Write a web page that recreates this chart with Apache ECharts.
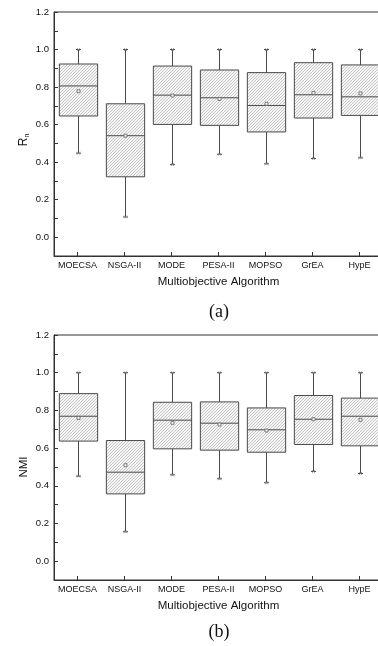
<!DOCTYPE html>
<html>
<head>
<meta charset="utf-8">
<script src="https://cdn.jsdelivr.net/npm/echarts@6/dist/echarts.min.js"></script>
<style>
html,body{margin:0;padding:0;background:#fff;}
#chart{width:378px;height:646px;}
</style>
</head>
<body>
<div id="chart"></div>
<script>
const categories = ['MOECSA','NSGA-II','MODE','PESA-II','MOPSO','GrEA','HypE'];
// Panel (a): R_n
const rnMin    = [0.448, 0.108, 0.387, 0.442, 0.391, 0.419, 0.423];
const rnQ1     = [0.646, 0.322, 0.601, 0.596, 0.561, 0.635, 0.649];
const rnMedian = [0.806, 0.541, 0.757, 0.743, 0.702, 0.759, 0.748];
const rnQ3     = [0.923, 0.711, 0.912, 0.891, 0.877, 0.930, 0.918];
const rnMax    = [1.0, 1.0, 1.0, 1.0, 1.0, 1.0, 1.0];
const rnMean   = [0.778, 0.541, 0.755, 0.737, 0.711, 0.769, 0.766];
// Panel (b): NMI
const nmiMin    = [0.451, 0.156, 0.458, 0.437, 0.416, 0.476, 0.465];
const nmiQ1     = [0.637, 0.357, 0.596, 0.589, 0.578, 0.619, 0.612];
const nmiMedian = [0.769, 0.472, 0.748, 0.732, 0.697, 0.753, 0.769];
const nmiQ3     = [0.889, 0.640, 0.843, 0.845, 0.813, 0.879, 0.865];
const nmiMax    = [1.0, 1.0, 1.0, 1.0, 1.0, 1.0, 1.0];
const nmiMean   = [0.760, 0.509, 0.734, 0.725, 0.693, 0.753, 0.750];

const yLabelValues = [0.0, 0.2, 0.4, 0.6, 0.8, 1.0, 1.2];
const yTickValues  = [0.0, 0.1, 0.2, 0.3, 0.4, 0.5, 0.6, 0.7, 0.8, 0.9, 1.0, 1.1, 1.2];

// hatch pattern
const P = 3;
const pc = document.createElement('canvas');
pc.width = P; pc.height = P;
const ctx = pc.getContext('2d');
ctx.fillStyle = '#f5f5f5';
ctx.fillRect(0,0,P,P);
ctx.strokeStyle = '#bdbdbd';
ctx.lineWidth = 0.8;
ctx.beginPath();
ctx.moveTo(0,P); ctx.lineTo(P,0);
ctx.moveTo(-1,1); ctx.lineTo(1,-1);
ctx.moveTo(P-1,P+1); ctx.lineTo(P+1,P-1);
ctx.stroke();
const hatch = {image: pc, repeat: 'repeat'};

function build(mins,q1,med,q3,maxs,means){
  return categories.map((c,i)=>[i, mins[i], q1[i], med[i], q3[i], maxs[i], means[i]]);
}

const LC = '#4a4a4a';
function renderItem(params, api){
  const x = api.value(0);
  const pMin = api.coord([x, api.value(1)]);
  const pQ1 = api.coord([x, api.value(2)]);
  const pMed = api.coord([x, api.value(3)]);
  const pQ3 = api.coord([x, api.value(4)]);
  const pMax = api.coord([x, api.value(5)]);
  const pMean = api.coord([x, api.value(6)]);
  const bw = api.size([1,0])[0]*0.815;
  const cx = Math.round(pMin[0]) + 0.5;
  const capW = 2.5;
  const ls = {stroke: LC, lineWidth: 1};
  const children = [
    {type:'line', shape:{x1:cx,y1:pMax[1],x2:cx,y2:pQ3[1]}, style:ls},
    {type:'line', shape:{x1:cx,y1:pQ1[1],x2:cx,y2:pMin[1]}, style:ls},
    {type:'line', shape:{x1:cx-capW,y1:pMax[1],x2:cx+capW,y2:pMax[1]}, style:ls},
    {type:'line', shape:{x1:cx-capW,y1:pMin[1],x2:cx+capW,y2:pMin[1]}, style:ls},
    {type:'line', shape:{x1:cx-1.5,y1:pMax[1]-1.5,x2:cx+1.5,y2:pMax[1]+1.5}, style:{stroke:'#888',lineWidth:0.7}},
    {type:'line', shape:{x1:cx-1.5,y1:pMax[1]+1.5,x2:cx+1.5,y2:pMax[1]-1.5}, style:{stroke:'#888',lineWidth:0.7}},
    {type:'line', shape:{x1:cx-1.5,y1:pMin[1]-1.5,x2:cx+1.5,y2:pMin[1]+1.5}, style:{stroke:'#888',lineWidth:0.7}},
    {type:'line', shape:{x1:cx-1.5,y1:pMin[1]+1.5,x2:cx+1.5,y2:pMin[1]-1.5}, style:{stroke:'#888',lineWidth:0.7}},
    {type:'rect', shape:{x:cx-bw/2, y:pQ3[1], width:bw, height:pQ1[1]-pQ3[1]}, style:{fill:hatch, stroke:LC, lineWidth:1}},
    {type:'line', shape:{x1:cx-bw/2,y1:pMed[1],x2:cx+bw/2,y2:pMed[1]}, style:ls},
    {type:'rect', shape:{x:cx-1.5, y:pMean[1]-1.5, width:3, height:3}, style:{fill:'#f5f5f5', stroke:'#666', lineWidth:0.8}}
  ];
  return {type:'group', children};
}

const FONT = 'Liberation Sans, Arial, sans-serif';
function xAxisFor(gi){
  return {
    type:'category', gridIndex:gi, data:categories,
    boundaryGap:true,
    name:'Multiobjective Algorithm', nameLocation:'middle', nameGap:20,
    nameTextStyle:{fontFamily:FONT, fontSize:11.5, color:'#111'},
    axisLine:{show:true, onZero:false, lineStyle:{color:'#333', width:1}},
    axisTick:{show:true, inside:true, alignWithLabel:true, length:4, lineStyle:{color:'#333'}},
    axisLabel:{fontFamily:FONT, fontSize:9, color:'#111', margin:5, interval:0},
    splitLine:{show:false}
  };
}
function yAxisFor(gi){
  return {
    type:'value', gridIndex:gi, min:-0.1, max:1.2,
    axisLine:{show:true, onZero:false, lineStyle:{color:'#333', width:1}},
    axisTick:{show:true, inside:true, length:4, customValues: yTickValues, lineStyle:{color:'#333'}},
    axisLabel:{fontFamily:FONT, fontSize:9.5, color:'#111', margin:5, customValues: yLabelValues,
      formatter: v => v.toFixed(1)},
    splitLine:{show:false}
  };
}

const chart = echarts.init(document.getElementById('chart'), null, {renderer:'canvas'});
chart.setOption({
  backgroundColor:'#fff',
  animation:false,
  grid:[
    {left:54, top:12, width:329, height:244, outerBoundsMode:'none', containLabel:false, show:true, borderColor:'#333', borderWidth:1, backgroundColor:'transparent'},
    {left:54, top:335, width:329, height:245, outerBoundsMode:'none', containLabel:false, show:true, borderColor:'#333', borderWidth:1, backgroundColor:'transparent'}
  ],
  xAxis:[xAxisFor(0), xAxisFor(1)],
  yAxis:[yAxisFor(0), yAxisFor(1)],
  series:[
    {type:'custom', xAxisIndex:0, yAxisIndex:0, renderItem, clip:false, encode:{x:0, y:[1,2,3,4,5,6]},
      data: build(rnMin, rnQ1, rnMedian, rnQ3, rnMax, rnMean)},
    {type:'custom', xAxisIndex:1, yAxisIndex:1, renderItem, clip:false, encode:{x:0, y:[1,2,3,4,5,6]},
      data: build(nmiMin, nmiQ1, nmiMedian, nmiQ3, nmiMax, nmiMean)}
  ],
  graphic:[
    {type:'text', x:24, y:140, rotation:Math.PI/2,
      style:{text:'{r|R}{s|n}', fontFamily:FONT, fill:'#111', align:'center', verticalAlign:'middle',
        rich:{r:{fontSize:12, fontFamily:FONT, fill:'#111', lineHeight:14},
              s:{fontSize:7, fontFamily:FONT, fill:'#111', padding:[7,0,0,0], lineHeight:14}}}},
    {type:'text', x:24, y:467, rotation:Math.PI/2,
      style:{text:'NMI', fontFamily:FONT, fontSize:11.5, fill:'#111', align:'center', verticalAlign:'middle'}},
    {type:'text', x:219, y:312,
      style:{text:'(a)', fontFamily:'Liberation Serif, serif', fontSize:18, fill:'#111', align:'center', verticalAlign:'middle'}},
    {type:'text', x:219, y:632,
      style:{text:'(b)', fontFamily:'Liberation Serif, serif', fontSize:18, fill:'#111', align:'center', verticalAlign:'middle'}}
  ]
});
</script>
</body>
</html>
